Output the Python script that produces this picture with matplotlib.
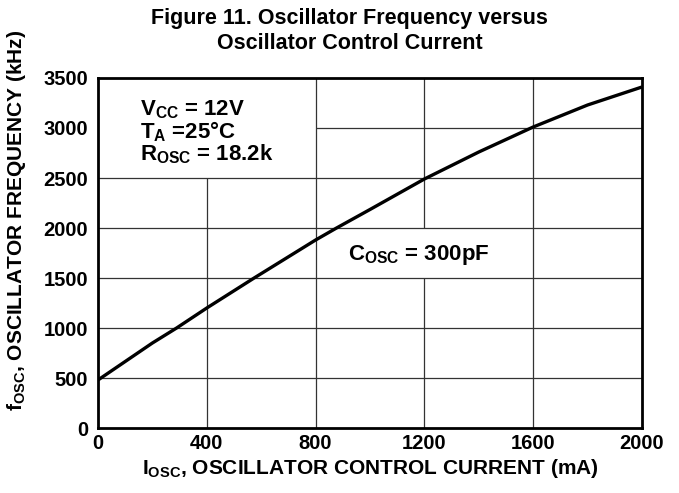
import matplotlib
matplotlib.use("Agg")
import matplotlib.pyplot as plt

plt.rcParams['font.family'] = ['Liberation Sans', 'DejaVu Sans']
plt.rcParams['font.weight'] = 'bold'
plt.rcParams['mathtext.fontset'] = 'custom'
plt.rcParams['mathtext.rm'] = 'Liberation Sans:bold'
plt.rcParams['mathtext.bf'] = 'Liberation Sans:bold'
plt.rcParams['mathtext.it'] = 'Liberation Sans:bold'

# Data
current_ma = [0, 200, 289, 400, 574, 800, 877, 1000, 1200, 1400, 1600, 1800, 2000]
freq_khz = [480, 850, 1000, 1200, 1500, 1880, 2000, 2185, 2490, 2760, 3010, 3230, 3410]

x_ticks = [0, 400, 800, 1200, 1600, 2000]
y_ticks = [0, 500, 1000, 1500, 2000, 2500, 3000, 3500]

fig = plt.figure(figsize=(6.79, 4.93), dpi=100)
ax = fig.add_axes([0.1443, 0.1318, 0.8012, 0.710])
ax.set_xlim(0, 2000)
ax.set_ylim(0, 3500)

gc = '#333333'
glw = 0.9
# vertical grid segments (gaps where annotation boxes sit)
ax.vlines(400, 0, 2500, color=gc, lw=glw)
ax.vlines(800, 0, 3500, color=gc, lw=glw)
ax.vlines(1200, 0, 1500, color=gc, lw=glw)
ax.vlines(1200, 2000, 3500, color=gc, lw=glw)
ax.vlines(1600, 0, 3500, color=gc, lw=glw)
# horizontal grid segments
for yv in [500, 1000, 1500, 2000, 2500]:
    ax.hlines(yv, 0, 2000, color=gc, lw=glw)
ax.hlines(3000, 800, 2000, color=gc, lw=glw)

ax.plot(current_ma, freq_khz, color='black', lw=2.4, solid_capstyle='butt', zorder=5)

for s in ax.spines.values():
    s.set_linewidth(2.0)
    s.set_color('black')

ax.set_xticks(x_ticks)
ax.set_yticks(y_ticks)
ax.tick_params(axis='y', length=0, labelsize=14.5, pad=7)
ax.tick_params(axis='x', length=0, labelsize=14.5, pad=4)
for lab in ax.get_xticklabels() + ax.get_yticklabels():
    lab.set_fontweight('bold')

ax.set_xlabel(r"$\mathregular{I_{OSC}}$, OSCILLATOR CONTROL CURRENT (mA)", fontsize=15, fontweight='bold')
ax.set_ylabel(r"$\mathregular{f_{OSC}}$, OSCILLATOR FREQUENCY (kHz)", fontsize=15, fontweight='bold')
ax.xaxis.set_label_coords(0.5, -0.083)
ax.yaxis.set_label_coords(-0.128, 0.594)

fs = 16
ax.text(154, 3300,
        "$\\mathregular{V_{CC}}$ = 12V\n$\\mathregular{T_{A}}$ =25°C\n$\\mathregular{R_{OSC}}$ = 18.2k",
        fontsize=fs, fontweight='bold', va='top', ha='left', linespacing=0.92)
ax.text(919, 1680, r"$\mathregular{C_{OSC}}$ = 300pF", fontsize=fs, fontweight='bold', va='baseline', ha='left')

fig.text(0.515, 0.937, "Figure 11. Oscillator Frequency versus\nOscillator Control Current",
         ha='center', va='center', fontsize=15.5, fontweight='bold', linespacing=1.22)

fig.savefig("out.png", dpi=100)
